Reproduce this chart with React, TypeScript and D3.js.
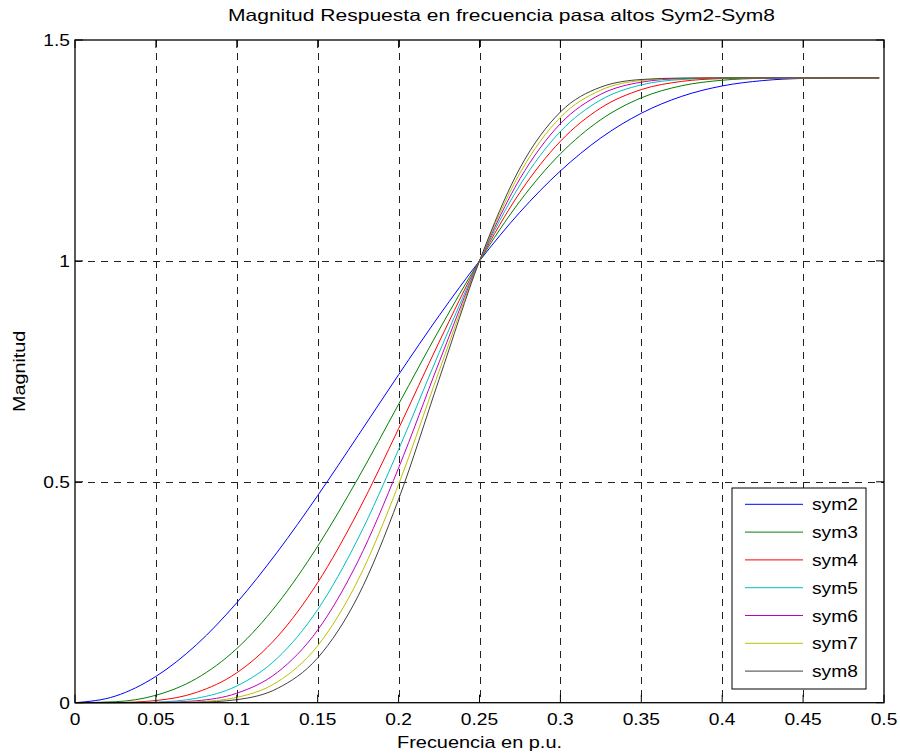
import React from "react";
import * as d3 from "d3";

const freq = [0, 0.025, 0.05, 0.075, 0.1, 0.125, 0.15, 0.175, 0.2, 0.225, 0.25, 0.275, 0.3, 0.325, 0.35, 0.375, 0.4, 0.425, 0.45, 0.475, 0.497];

const sym2 = [0, 0.0150, 0.0595, 0.1310, 0.2263, 0.3408, 0.4689, 0.6048, 0.7424, 0.8759, 1.0, 1.1103, 1.2036, 1.2784, 1.3342, 1.3725, 1.3960, 1.4081, 1.4130, 1.4141, 1.4142];
const sym3 = [0, 0.0022, 0.0168, 0.0546, 0.1225, 0.2232, 0.3542, 0.5084, 0.6756, 0.8435, 1.0, 1.1352, 1.2424, 1.3197, 1.3691, 1.3965, 1.4089, 1.4132, 1.4141, 1.4142, 1.4142];
const sym4 = [0, 0.0003, 0.0049, 0.0232, 0.0677, 0.1490, 0.2719, 0.4330, 0.6205, 0.8161, 1.0, 1.1550, 1.2708, 1.3463, 1.3878, 1.4063, 1.4126, 1.4141, 1.4142, 1.4142, 1.4142];
const sym5 = [0, 0.0000, 0.0014, 0.0100, 0.0379, 0.1006, 0.2108, 0.3718, 0.5731, 0.7920, 1.0, 1.1716, 1.2929, 1.3645, 1.3984, 1.4106, 1.4137, 1.4142, 1.4142, 1.4142, 1.4142];
const sym6 = [0, 0, 0.0004, 0.0044, 0.0214, 0.0684, 0.1645, 0.3209, 0.5314, 0.7703, 1.0, 1.1860, 1.3106, 1.3773, 1.4046, 1.4126, 1.4141, 1.4142, 1.4142, 1.4142, 1.4142];
const sym7 = [0, 0, 0.0001, 0.0019, 0.0121, 0.0468, 0.1290, 0.2781, 0.4942, 0.7503, 1.0, 1.1988, 1.3251, 1.3866, 1.4083, 1.4134, 1.4142, 1.4142, 1.4142, 1.4142, 1.4142];
const sym8 = [0, 0, 0.0000, 0.0008, 0.0069, 0.0321, 0.1015, 0.2417, 0.4606, 0.7317, 1.0, 1.2102, 1.3371, 1.3934, 1.4106, 1.4138, 1.4142, 1.4142, 1.4142, 1.4142, 1.4142];

const seriesNames = ["sym2", "sym3", "sym4", "sym5", "sym6", "sym7", "sym8"];
const seriesValues = [sym2, sym3, sym4, sym5, sym6, sym7, sym8];
const seriesColors = ["#0000ff", "#008000", "#ff0000", "#00bfbf", "#bf00bf", "#bfbf00", "#404040"];

const xTicks = [0, 0.05, 0.1, 0.15, 0.2, 0.25, 0.3, 0.35, 0.4, 0.45, 0.5];
const xTickLabels = ["0", "0.05", "0.1", "0.15", "0.2", "0.25", "0.3", "0.35", "0.4", "0.45", "0.5"];
const yTicks = [0, 0.5, 1, 1.5];
const yTickLabels = ["0", "0.5", "1", "1.5"];

const titleText = "Magnitud Respuesta en frecuencia pasa altos Sym2-Sym8";
const xLabelText = "Frecuencia en p.u.";
const yLabelText = "Magnitud";

const W = 900;
const H = 755;
const L = 75;
const R = 884;
const T = 40;
const B = 702.7;
const FONT = "'Liberation Sans', Arial, Helvetica, sans-serif";
const SX = 1.2;

function STxt(props: { x: number; y: number; anchor?: string; size?: number; children: React.ReactNode }) {
  const { x, y, anchor = "start", size = 16, children } = props;
  return (
    <text
      transform={`translate(${x},${y}) scale(${SX},1)`}
      textAnchor={anchor}
      fontSize={size}
      fontFamily={FONT}
      fill="#000"
    >
      {children}
    </text>
  );
}

export default function App() {
  const x = d3.scaleLinear().domain([0, 0.5]).range([L, R]);
  const y = d3.scaleLinear().domain([0, 1.5]).range([B, T]);
  const line = d3
    .line<number>()
    .x((_, i) => x(freq[i]))
    .y((d) => y(d))
    .curve(d3.curveMonotoneX);

  const tickLen = 8;
  const legX0 = 732;
  const legY0 = 488;
  const legW = 134;
  const legH = 201;
  const rowH = 27.8;
  const firstRow = 504.3;

  return (
    <div style={{ position: "absolute", left: 0, top: 0, width: W, height: H, background: "#fff" }}>
      <svg width={W} height={H} viewBox={`0 0 ${W} ${H}`}>
        <rect x={0} y={0} width={W} height={H} fill="#fff" />
        {/* grid */}
        <g stroke="#222" strokeWidth={1} strokeDasharray="7,6" shapeRendering="crispEdges">
          {xTicks.slice(1, -1).map((t) => (
            <line key={"gx" + t} x1={Math.round(x(t)) + 0.5} x2={Math.round(x(t)) + 0.5} y1={T} y2={B} />
          ))}
          {yTicks.slice(1, -1).map((t) => (
            <line key={"gy" + t} x1={L} x2={R} y1={Math.round(y(t)) + 0.5} y2={Math.round(y(t)) + 0.5} />
          ))}
        </g>
        {/* curves */}
        <g fill="none" strokeWidth={1}>
          {seriesValues.map((vals, i) => (
            <path key={seriesNames[i]} d={line(vals) || ""} stroke={seriesColors[i]} />
          ))}
        </g>
        {/* axes box */}
        <rect x={L} y={T} width={R - L} height={B - T} fill="none" stroke="#000" strokeWidth={1.3} />
        {/* ticks */}
        <g stroke="#000" strokeWidth={1}>
          {xTicks.map((t) => (
            <g key={"tx" + t}>
              <line x1={x(t)} x2={x(t)} y1={B} y2={B - tickLen} />
              <line x1={x(t)} x2={x(t)} y1={T} y2={T + tickLen} />
            </g>
          ))}
          {yTicks.map((t) => (
            <g key={"ty" + t}>
              <line x1={L} x2={L + tickLen} y1={y(t)} y2={y(t)} />
              <line x1={R} x2={R - tickLen} y1={y(t)} y2={y(t)} />
            </g>
          ))}
        </g>
        {/* tick labels */}
        {xTicks.map((t, i) => (
          <STxt key={"lx" + t} x={x(t)} y={725} anchor="middle">
            {xTickLabels[i]}
          </STxt>
        ))}
        {yTicks.map((t, i) => (
          <STxt key={"ly" + t} x={70} y={y(t) + 6} anchor="end">
            {yTickLabels[i]}
          </STxt>
        ))}
        {/* title */}
        <text x={228} y={21} fontSize={16.5} fontFamily={FONT} textLength={547} lengthAdjust="spacingAndGlyphs">
          {titleText}
        </text>
        {/* x label */}
        <text x={397} y={748} fontSize={17} fontFamily={FONT} textLength={165} lengthAdjust="spacingAndGlyphs">
          {xLabelText}
        </text>
        {/* y label */}
        <g transform={`translate(25,${(T + B) / 2}) rotate(-90)`}>
          <text x={0} y={0} textAnchor="middle" fontSize={16.5} fontFamily={FONT} transform={`scale(${SX},1)`}>
            {yLabelText}
          </text>
        </g>
        {/* legend */}
        <rect x={legX0} y={legY0} width={legW} height={legH} fill="#fff" stroke="#000" strokeWidth={1} />
        {seriesNames.map((n, i) => {
          const ry = firstRow + i * rowH;
          return (
            <g key={"leg" + n}>
              <line x1={745} x2={803} y1={ry} y2={ry} stroke={seriesColors[i]} strokeWidth={1} />
              <STxt x={812} y={ry + 6}>{n}</STxt>
            </g>
          );
        })}
      </svg>
    </div>
  );
}
